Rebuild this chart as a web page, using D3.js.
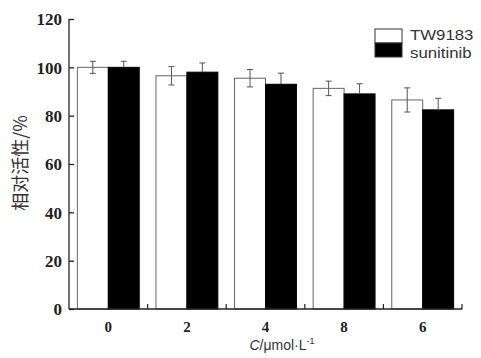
<!DOCTYPE html>
<html>
<head>
<meta charset="utf-8">
<script src="https://cdn.jsdelivr.net/npm/d3@7"></script>
<style>
  body { margin: 0; background: #fff; }
  svg { display: block; }
  .num { font-family: "Liberation Serif", "Times New Roman", serif; font-weight: bold; }
  .sans { font-family: "Liberation Sans", Arial, sans-serif; }
</style>
</head>
<body>
<svg id="chart" width="481" height="358"></svg>
<script>
var categories = ["0", "2", "4", "8", "6"];
var series = ["TW9183", "sunitinib"];
var tw9183 = [100, 96.5, 95.5, 91.3, 86.5];
var tw9183Err = [2.5, 3.8, 3.6, 3.0, 5.0];
var sunitinib = [100, 98, 93, 89, 82.4];
var sunitinibErr = [2.5, 3.8, 4.6, 4.2, 4.8];
var yTicks = [0, 20, 40, 60, 80, 100, 120];

var svg = d3.select("svg#chart"),
    margin = { left: 69, right: 19, top: 19, bottom: 49 },
    width = +svg.attr("width"),
    height = +svg.attr("height"),
    x0 = d3.scaleBand()
        .domain(categories)
        .range([margin.left, width - margin.right])
        .padding(0),
    x1 = d3.scaleBand()
        .domain(series)
        .range([0, x0.bandwidth()])
        .paddingInner(0)
        .paddingOuter(0.27),
    y = d3.scaleLinear()
        .domain([0, 120])
        .range([height - margin.bottom, margin.top]);

var rows = categories.map(function (c, i) {
    return {
        cat: c,
        vals: [
            { key: "TW9183", v: tw9183[i], e: tw9183Err[i] },
            { key: "sunitinib", v: sunitinib[i], e: sunitinibErr[i] }
        ]
    };
});

var fill = { "TW9183": "#fff", "sunitinib": "#000" };

var groups = svg.append("g")
    .selectAll("g")
    .data(rows)
    .enter()
    .append("g")
    .attr("transform", d => "translate(" + x0(d.cat) + ",0)");

groups.selectAll("rect")
    .data(d => d.vals)
    .enter()
    .append("rect")
    .attr("x", d => x1(d.key))
    .attr("y", d => y(d.v))
    .attr("width", x1.bandwidth())
    .attr("height", d => y(0) - y(d.v))
    .attr("fill", d => fill[d.key])
    .attr("stroke", d => d.key == "TW9183" ? "#666" : "#000")
    .attr("stroke-width", 1);

// error bars: white bars show both halves, black bars only the upper one
groups.selectAll(".err")
    .data(d => d.vals)
    .enter()
    .append("g")
    .attr("class", "err")
    .each(function (d) {
        var g = d3.select(this),
            cx = x1(d.key) + x1.bandwidth() / 2,
            lo = d.key == "sunitinib" ? d.v : d.v - d.e;
        g.append("line")
            .attr("x1", cx).attr("x2", cx)
            .attr("y1", y(d.v + d.e)).attr("y2", y(lo))
            .attr("stroke", "#555").attr("stroke-width", 1);
        g.append("line")
            .attr("x1", cx - 3).attr("x2", cx + 3)
            .attr("y1", y(d.v + d.e)).attr("y2", y(d.v + d.e))
            .attr("stroke", "#555").attr("stroke-width", 1);
        if (d.key == "TW9183") {
            g.append("line")
                .attr("x1", cx - 3).attr("x2", cx + 3)
                .attr("y1", y(d.v - d.e)).attr("y2", y(d.v - d.e))
                .attr("stroke", "#555").attr("stroke-width", 1);
        }
    });

// y axis, ticks pointing inward
var yAxis = svg.append("g")
    .attr("transform", "translate(" + margin.left + ",0)")
    .call(d3.axisRight(y).tickValues(yTicks).tickSize(5).tickFormat(d3.format("d")));
yAxis.attr("font-family", null).attr("font-size", null);
yAxis.select(".domain").attr("d", "M0," + y(120) + "V" + y(0)).attr("stroke", "#222").attr("stroke-width", 1.3);
yAxis.selectAll(".tick line").attr("stroke", "#222").attr("stroke-width", 1.3);
yAxis.selectAll(".tick text")
    .attr("class", "num")
    .attr("x", -7)
    .attr("text-anchor", "end")
    .attr("dy", "0.35em")
    .attr("font-size", 17)
    .attr("fill", "#222");

// x axis, ticks between groups pointing up, labels at group centres
var xAxis = svg.append("g")
    .attr("transform", "translate(0," + y(0) + ")");
xAxis.append("line")
    .attr("x1", margin.left).attr("x2", width - margin.right)
    .attr("y1", 0).attr("y2", 0)
    .attr("stroke", "#222").attr("stroke-width", 1.3);
xAxis.selectAll(".sep")
    .data(categories)
    .enter()
    .append("line")
    .attr("x1", d => x0(d) + x0.bandwidth())
    .attr("x2", d => x0(d) + x0.bandwidth())
    .attr("y1", 0).attr("y2", -5)
    .attr("stroke", "#222").attr("stroke-width", 1.2);
xAxis.selectAll(".lab")
    .data(categories)
    .enter()
    .append("text")
    .attr("class", "num")
    .attr("x", d => x0(d) + x0.bandwidth() / 2)
    .attr("y", 23)
    .attr("text-anchor", "middle")
    .attr("font-size", 15)
    .attr("fill", "#222")
    .text(d => d);

// x title
var xt = svg.append("text")
    .attr("class", "sans")
    .attr("x", 282)
    .attr("y", 350)
    .attr("text-anchor", "middle")
    .attr("font-size", 14)
    .attr("fill", "#333");
xt.append("tspan").attr("font-style", "italic").text("C");
xt.append("tspan").text("/\u03bcmol\u00b7L");
xt.append("tspan").attr("font-size", 9).attr("dy", -6).text("-1");

// y title
svg.append("text")
    .attr("transform", "translate(27,163) rotate(-90)")
    .attr("text-anchor", "middle")
    .attr("font-family", "'Noto Sans CJK SC', sans-serif")
    .attr("font-size", 18)
    .attr("fill", "#333")
    .text("相对活性/%");

// legend
var legend = svg.append("g")
    .attr("class", "legend")
    .attr("transform", "translate(375,29)");
legend.selectAll("rect")
    .data(series)
    .enter()
    .append("rect")
    .attr("x", 0)
    .attr("y", (d, i) => i * 14)
    .attr("width", 27)
    .attr("height", 14)
    .attr("fill", d => fill[d])
    .attr("stroke", "#333")
    .attr("stroke-width", 1);
legend.selectAll("text")
    .data(series)
    .enter()
    .append("text")
    .attr("class", "sans")
    .attr("transform", (d, i) => "translate(35," + (11 + i * 18) + ") scale(1.12,1)")
    .attr("font-size", 15)
    .attr("fill", "#333")
    .text(d => d);
</script>
</body>
</html>
